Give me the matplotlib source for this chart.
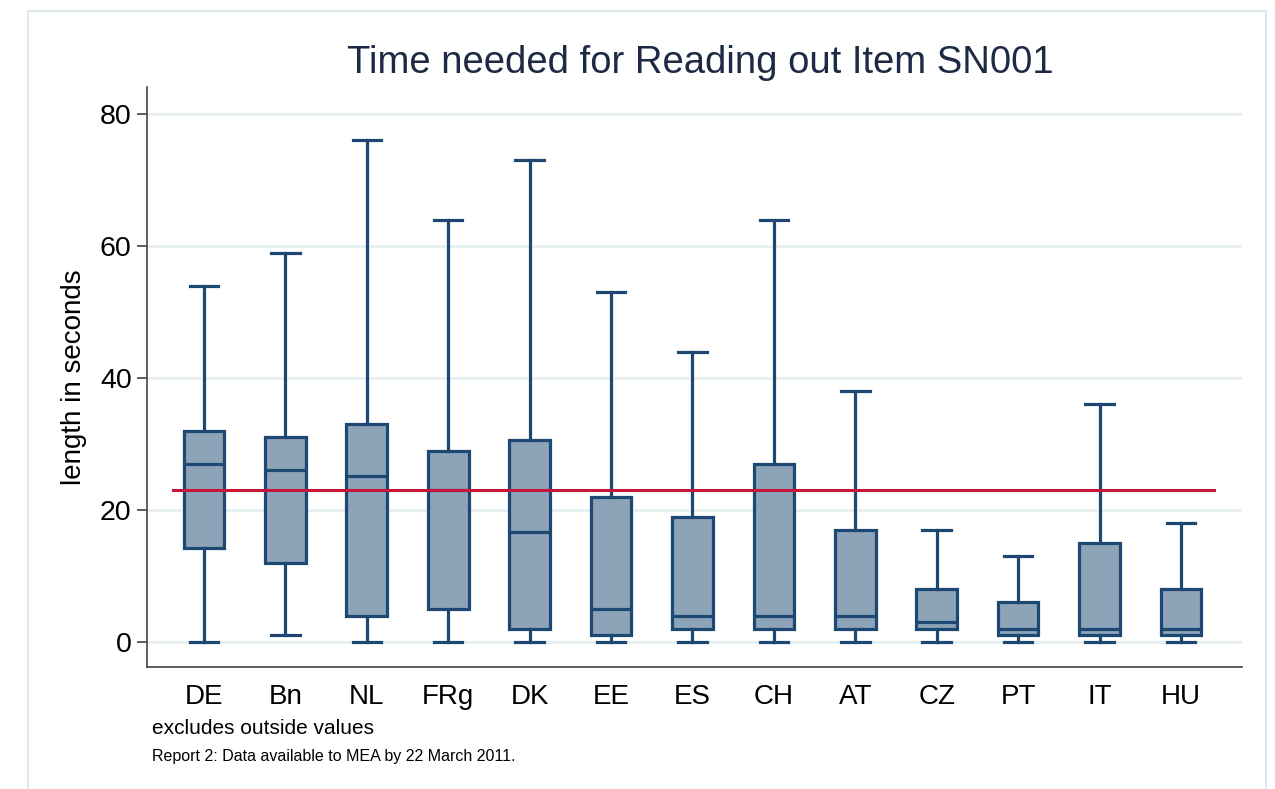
import matplotlib
matplotlib.use("Agg")
import matplotlib.pyplot as plt
from matplotlib.patches import Rectangle

plt.rcParams['font.family'] = ['Liberation Sans', 'DejaVu Sans']

# values (seconds)
countries = ['DE', 'Bn', 'NL', 'FRg', 'DK', 'EE', 'ES', 'CH', 'AT', 'CZ', 'PT', 'IT', 'HU']
whisk_hi = [54, 59, 76, 64, 73, 53, 44, 64, 38, 17, 13, 36, 18]
q3 = [32, 31, 33, 29, 30.6, 22, 19, 27, 17, 8, 6, 15, 8]
median = [27, 26, 25.2, 23, 16.6, 5, 4, 4, 4, 3, 2, 2, 2]
q1 = [14.3, 12, 4, 5, 2, 1, 2, 2, 2, 2, 1, 1, 1]
whisk_lo = [0, 1, 0, 0, 0, 0, 0, 0, 0, 0, 0, 0, 0]
overall_mean = 23

navy = '#1d4872'
fill = '#8ca3b8'

fig = plt.figure(figsize=(12.75, 7.89), dpi=100)
ax = fig.add_axes([147 / 1275, 1 - 667 / 789, (1242 - 147) / 1275, (667 - 87) / 789])

stats = []
for i in range(len(countries)):
    stats.append(dict(label=countries[i], med=median[i], q1=q1[i], q3=q3[i],
                      whislo=whisk_lo[i], whishi=whisk_hi[i], fliers=[]))

pos = list(range(len(countries)))
ax.bxp(stats, positions=pos, widths=0.5, capwidths=0.35, patch_artist=True, showfliers=False,
       boxprops=dict(facecolor=fill, edgecolor=navy, linewidth=2.3),
       medianprops=dict(color=navy, linewidth=2.3),
       whiskerprops=dict(color=navy, linewidth=2.3),
       capprops=dict(color=navy, linewidth=2.3))

# mean line
ax.axhline(overall_mean, xmin=0.024, xmax=0.974, color='#c8163a', linewidth=2.2, zorder=3)

ax.set_xlim(-0.70, 12.75)
ax.set_ylim(-3.8, 84.1)
ax.set_yticks([0, 20, 40, 60, 80])
ax.yaxis.grid(True, color='#e6eff1', linewidth=2)
ax.set_axisbelow(True)

for s in ['top', 'right']:
    ax.spines[s].set_visible(False)
for s in ['left', 'bottom']:
    ax.spines[s].set_color('#444444')
    ax.spines[s].set_linewidth(1.2)

ax.tick_params(axis='y', length=7, width=1.2, color='#444444', labelsize=20.5, pad=4)
ax.tick_params(axis='x', length=0, labelsize=20, pad=12)

ax.set_ylabel('length in seconds', fontsize=20)
ax.yaxis.set_label_coords(-0.055, 0.5)
ax.set_title('Time needed for Reading out Item SN001', fontsize=27.5, color='#1e2a45',
             pad=10, x=0.505)

fig.text(152 / 1275, 1 - 728 / 789, 'excludes outside values', fontsize=15, va='center')
fig.text(152 / 1275, 1 - 757 / 789, 'Report 2: Data available to MEA by 22 March 2011.',
         fontsize=11.5, va='center')

# light outer frame
fig.patches.append(Rectangle((28 / 1275, -0.1), (1266 - 28) / 1275, 1.1 - 11 / 789,
                             transform=fig.transFigure, fill=False,
                             edgecolor='#dde8ec', linewidth=1.5))

fig.savefig('out.png', dpi=100)
